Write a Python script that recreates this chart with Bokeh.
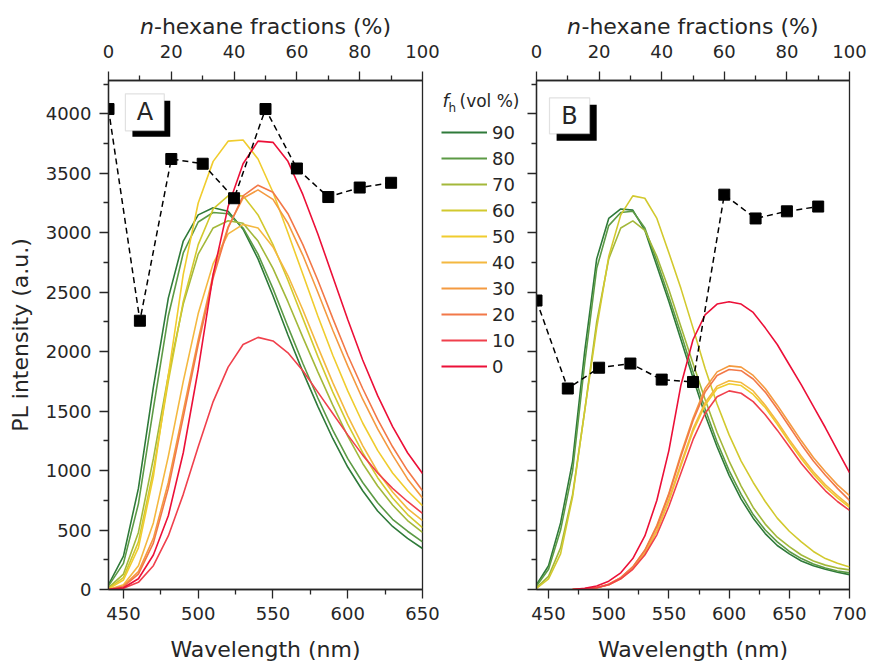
from bokeh.plotting import figure
from bokeh.models import Range1d, LinearAxis, Legend, LegendItem, Label, BoxAnnotation, FixedTicker
from bokeh.layouts import row
from bokeh.embed import file_html
from bokeh.resources import INLINE

FONT = "DejaVu Sans"
INK = "#262626"

# n-hexane volume fractions (legend order, top to bottom)
fractions = ["90", "80", "70", "60", "50", "40", "30", "20", "10", "0"]
colors = ["#2f7a3a", "#5c9a45", "#a3b83a", "#d2c92e", "#f0cc2e",
          "#f4b840", "#f49a40", "#f27848", "#f0404c", "#ec1038"]

# ---- panel A spectra (PL intensity, a.u.) ----
wl_a = [440, 450, 460, 470, 480, 490, 500, 510, 520, 530, 540,
        550, 560, 570, 580, 590, 600, 610, 620, 630, 640, 650]
a_90 = [40, 280, 850, 1700, 2450, 2930, 3150, 3210, 3180, 3030, 2780,
        2470, 2140, 1830, 1540, 1270, 1030, 830, 660, 530, 430, 345]
a_80 = [30, 220, 720, 1520, 2300, 2830, 3090, 3170, 3160, 3040, 2820,
        2530, 2210, 1900, 1610, 1340, 1100, 900, 730, 590, 490, 400]
a_70 = [15, 130, 480, 1100, 1800, 2400, 2820, 3040, 3100, 3080, 2930,
        2700, 2420, 2120, 1830, 1550, 1290, 1060, 870, 710, 580, 480]
a_60 = [10, 100, 400, 1000, 1750, 2420, 2900, 3200, 3310, 3310, 3150,
        2900, 2600, 2280, 1960, 1660, 1390, 1150, 940, 770, 630, 520]
a_50 = [5, 80, 350, 950, 1800, 2650, 3250, 3600, 3770, 3780, 3620,
        3340, 3000, 2650, 2300, 1970, 1670, 1400, 1170, 980, 830, 705]
a_40 = [0, 40, 200, 560, 1120, 1750, 2320, 2740, 2990, 3070, 3040,
        2880, 2640, 2350, 2040, 1740, 1460, 1210, 990, 820, 680, 580]
a_30 = [0, 30, 150, 430, 900, 1500, 2100, 2650, 3050, 3290, 3360,
        3280, 3080, 2810, 2500, 2180, 1880, 1600, 1350, 1130, 930, 770]
a_20 = [0, 25, 130, 390, 850, 1450, 2060, 2620, 3040, 3310, 3400,
        3340, 3160, 2900, 2600, 2280, 1970, 1690, 1430, 1200, 1000, 830]
a_10 = [0, 10, 60, 200, 450, 800, 1200, 1580, 1870, 2060, 2120,
        2090, 1990, 1840, 1660, 1480, 1300, 1130, 980, 850, 740, 640]
a_0 = [0, 15, 90, 290, 620, 1150, 1850, 2650, 3220, 3580, 3770,
       3760, 3600, 3320, 2990, 2630, 2270, 1930, 1630, 1370, 1150, 975]

# ---- panel B spectra ----
wl_b = [440, 450, 460, 470, 480, 490, 500, 510, 520, 530, 540, 550, 560, 570,
        580, 590, 600, 610, 620, 630, 640, 650, 660, 670, 680, 690, 700]
b_90 = [40, 200, 560, 1080, 2000, 2780, 3120, 3200, 3190, 3020, 2720, 2420, 2100, 1780,
        1470, 1200, 960, 760, 600, 470, 370, 300, 240, 200, 170, 145, 125]
b_80 = [30, 170, 500, 1000, 1900, 2700, 3060, 3170, 3180, 3040, 2760, 2460, 2150, 1830,
        1520, 1240, 1000, 800, 630, 500, 400, 320, 260, 215, 180, 155, 140]
b_70 = [15, 110, 350, 800, 1500, 2250, 2780, 3040, 3100, 3020, 2800, 2520, 2210, 1900,
        1600, 1320, 1080, 870, 690, 550, 440, 360, 290, 240, 205, 180, 165]
b_60 = [10, 90, 300, 780, 1500, 2200, 2800, 3150, 3310, 3290, 3120, 2830, 2530, 2200,
        1860, 1560, 1300, 1080, 900, 740, 600, 490, 400, 320, 260, 220, 190]

wl_b_red = [470, 480, 490, 500, 510, 520, 530, 540, 550, 560, 570, 580,
            590, 600, 610, 620, 630, 640, 650, 660, 670, 680, 690, 700]
b_50 = [0, 5, 15, 40, 90, 175, 300, 490, 745, 1040, 1330, 1550,
        1690, 1730, 1715, 1640, 1530, 1390, 1240, 1100, 970, 860, 770, 690]
b_40 = [0, 5, 15, 40, 95, 180, 310, 500, 760, 1060, 1350, 1570,
        1710, 1755, 1740, 1670, 1550, 1410, 1260, 1120, 990, 880, 790, 705]
b_30 = [0, 5, 15, 45, 100, 190, 330, 540, 810, 1140, 1440, 1690,
        1830, 1880, 1870, 1800, 1690, 1550, 1400, 1250, 1110, 990, 880, 790]
b_20 = [0, 5, 15, 45, 100, 190, 330, 530, 800, 1120, 1420, 1660,
        1800, 1850, 1840, 1770, 1660, 1520, 1370, 1220, 1080, 960, 850, 750]
b_10 = [0, 5, 15, 40, 90, 170, 290, 460, 700, 980, 1260, 1480,
        1620, 1670, 1650, 1580, 1470, 1340, 1200, 1060, 940, 830, 740, 665]
b_0 = [0, 10, 30, 70, 140, 260, 450, 750, 1170, 1720, 2100, 2310,
       2400, 2420, 2400, 2330, 2200, 2060, 1890, 1720, 1540, 1360, 1170, 983]

# ---- peak intensity versus n-hexane fraction (top axis) ----
hex_frac = [0, 10, 20, 30, 40, 50, 60, 70, 80, 90]
a_peak = [4040, 2260, 3620, 3580, 3290, 4040, 3540, 3300, 3380, 3420]
b_peak = [2430, 1690, 1865, 1900, 1765, 1745, 3320, 3120, 3180, 3220]

# axis ticks
y_major = [0, 500, 1000, 1500, 2000, 2500, 3000, 3500, 4000]
y_minor = [250, 750, 1250, 1750, 2250, 2750, 3250, 3750, 4250]
hex_major = [0, 20, 40, 60, 80, 100]
hex_minor = [10, 30, 50, 70, 90]
a_x_major = [450, 500, 550, 600, 650]
a_x_minor = [475, 525, 575, 625]
b_x_major = [450, 500, 550, 600, 650, 700]
b_x_minor = [475, 525, 575, 625, 675]

Y_MAX = 4280
TOP_TITLE = "\U0001D62F-hexane fractions (%)"


def style_axis(ax):
    ax.axis_line_color = INK
    ax.axis_line_width = 1.3
    ax.major_tick_line_color = INK
    ax.minor_tick_line_color = INK
    ax.major_tick_line_width = 1.3
    ax.minor_tick_line_width = 1.3
    ax.major_tick_in = 0
    ax.major_tick_out = 9
    ax.minor_tick_in = 0
    ax.minor_tick_out = 5
    ax.major_label_text_font = FONT
    ax.major_label_text_font_size = "18px"
    ax.major_label_text_color = INK
    ax.major_label_standoff = 8
    ax.axis_label_text_font = FONT
    ax.axis_label_text_font_size = "22px"
    ax.axis_label_text_font_style = "normal"
    ax.axis_label_text_color = INK


def make_panel(width, x_end, borders, x_major, x_minor, y_labels):
    p = figure(width=width, height=667, x_range=Range1d(440, x_end), y_range=Range1d(0, Y_MAX),
               output_backend="svg", toolbar_location=None,
               min_border_left=borders[0], min_border_right=borders[1],
               min_border_top=80, min_border_bottom=78)
    p.grid.visible = False
    p.outline_line_color = INK
    p.outline_line_width = 1.3
    p.background_fill_color = "white"
    p.border_fill_color = "white"
    p.xaxis.ticker = FixedTicker(ticks=x_major, minor_ticks=x_minor)
    p.yaxis.ticker = FixedTicker(ticks=y_major, minor_ticks=y_minor)
    p.xaxis.axis_label = "Wavelength (nm)"
    p.xaxis.axis_label_standoff = 14
    style_axis(p.xaxis[0])
    style_axis(p.yaxis[0])
    if y_labels:
        p.yaxis.axis_label = "PL intensity (a.u.)"
        p.yaxis.axis_label_standoff = 10
    else:
        p.yaxis.major_label_overrides = {t: "" for t in y_major}
        p.yaxis.major_label_standoff = 0
    p.extra_x_ranges = {"hex": Range1d(0, 100)}
    top = LinearAxis(x_range_name="hex", ticker=FixedTicker(ticks=hex_major, minor_ticks=hex_minor))
    style_axis(top)
    top.major_label_standoff = 14
    top.axis_label = TOP_TITLE
    top.axis_label_standoff = 3
    p.add_layout(top, "above")
    return p


def add_tag(p, letter, box, shadow, pos):
    p.add_layout(BoxAnnotation(left=shadow[0], right=shadow[1], bottom=shadow[2], top=shadow[3],
                               fill_color="black", fill_alpha=1, line_color=None))
    p.add_layout(BoxAnnotation(left=box[0], right=box[1], bottom=box[2], top=box[3],
                               fill_color="white", fill_alpha=1, line_color="#9a9a9a", line_width=1.2))
    p.add_layout(Label(x=pos[0], y=pos[1], text=letter, text_font=FONT, text_font_size="24px",
                       text_color=INK, text_align="center", text_baseline="middle"))


# ---------------- panel A ----------------
pa = make_panel(440, 650, (108, 18), a_x_major, a_x_minor, True)
series_a = [a_90, a_80, a_70, a_60, a_50, a_40, a_30, a_20, a_10, a_0]
for col, ys in zip(colors, series_a):
    pa.line(wl_a, ys, line_color=col, line_width=1.6)

pa.line(hex_frac, a_peak, x_range_name="hex", line_color="black", line_width=1.5, line_dash="6 4")
pa.scatter(hex_frac, a_peak, x_range_name="hex", marker="square", size=11,
           fill_color="black", line_color="black")
add_tag(pa, "A", (451.3, 477.3, 3857, 4168), (456.0, 481.3, 3807, 4109), (464.3, 4012))

# ---------------- legend strip between the panels ----------------
# The strip's x range lies outside the spectra, so its copies of the panel A
# lines stay hidden and only serve as the legend's keys.
pm = figure(width=82, height=667, x_range=Range1d(0, 1), y_range=Range1d(0, 1),
            output_backend="svg", toolbar_location=None,
            min_border_left=0, min_border_right=0, min_border_top=80, min_border_bottom=78)
pm.axis.visible = False
pm.grid.visible = False
pm.outline_line_color = None
items = []
for frac, col, ys in zip(fractions, colors, series_a):
    r = pm.line(wl_a, ys, line_color=col, line_width=2)
    items.append(LegendItem(label=frac, renderers=[r]))
legend = Legend(items=items, location=(1, 212),
                label_text_font=FONT, label_text_font_size="18px", label_text_color=INK,
                glyph_width=46, glyph_height=22, label_height=22, spacing=4,
                label_standoff=5, padding=0, margin=0,
                border_line_color=None, background_fill_alpha=0)
pm.add_layout(legend)


def strip_label(x, y, text, size, style="normal"):
    # x, y in pixels from the bottom-left corner of the strip's frame
    pm.add_layout(Label(x=x, y=y, x_units="screen", y_units="screen", text=text,
                        text_font=FONT, text_font_size=size, text_font_style=style,
                        text_color=INK, text_baseline="middle", text_align="left"))


strip_label(2, 489, "f", "18px", style="italic")
strip_label(8, 482, "h", "12px")
strip_label(19, 489, "(vol %)", "17px")

# ---------------- panel B ----------------
pb = make_panel(347, 700, (14, 20), b_x_major, b_x_minor, False)
for col, ys in zip(colors[:4], [b_90, b_80, b_70, b_60]):
    pb.line(wl_b, ys, line_color=col, line_width=1.6)
for col, ys in zip(colors[4:], [b_50, b_40, b_30, b_20, b_10, b_0]):
    pb.line(wl_b_red, ys, line_color=col, line_width=1.6)

pb.line(hex_frac, b_peak, x_range_name="hex", line_color="black", line_width=1.5, line_dash="6 4")
pb.scatter(hex_frac, b_peak, x_range_name="hex", marker="square", size=11,
           fill_color="black", line_color="black")
add_tag(pb, "B", (450.8, 484.2, 3832, 4134), (456.7, 490.0, 3773, 4076), (467.5, 3983))

layout = row(pa, pm, pb)
open("out.html", "w").write(file_html(layout, INLINE))
